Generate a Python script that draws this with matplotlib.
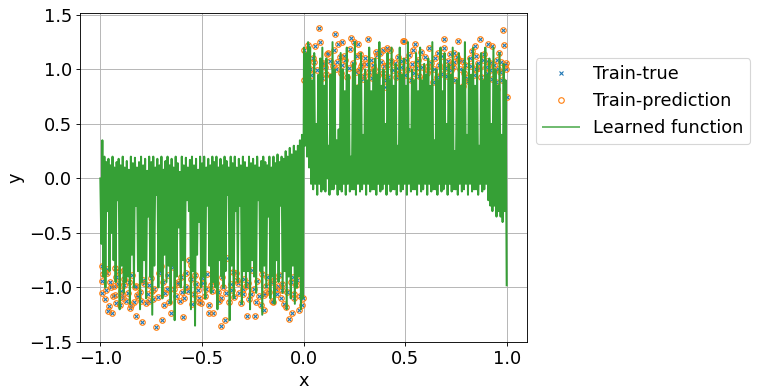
import numpy as np
import matplotlib
matplotlib.use("Agg")
import matplotlib.pyplot as plt

# ---- training data (left half, x < 0) ----
left_x = [
    -0.992, -0.992, -0.992, -0.985, -0.979, -0.979, -0.971, -0.965, -0.962, -0.959,
    -0.952, -0.943, -0.938, -0.933, -0.930, -0.930, -0.925, -0.922, -0.915, -0.905,
    -0.898, -0.889, -0.885, -0.881, -0.881, -0.872, -0.865, -0.856, -0.850, -0.843,
    -0.835, -0.830, -0.824, -0.824, -0.815, -0.807, -0.799, -0.796, -0.790, -0.783,
    -0.775, -0.766, -0.758, -0.750, -0.742, -0.735, -0.725, -0.717, -0.709, -0.701,
    -0.698, -0.688, -0.680, -0.668, -0.660, -0.652, -0.644, -0.636, -0.628, -0.616,
    -0.610, -0.603, -0.595, -0.587, -0.578, -0.570, -0.562, -0.554, -0.554, -0.549,
    -0.541, -0.534, -0.521, -0.513, -0.513, -0.505, -0.495, -0.485, -0.475, -0.464,
    -0.464, -0.456, -0.450, -0.445, -0.435, -0.423, -0.415, -0.407, -0.407, -0.399,
    -0.386, -0.375, -0.366, -0.358, -0.350, -0.340, -0.333, -0.325, -0.320, -0.310,
    -0.300, -0.292, -0.284, -0.276, -0.268, -0.260, -0.252, -0.245, -0.239, -0.228,
    -0.220, -0.211, -0.203, -0.195, -0.195, -0.186, -0.178, -0.168, -0.160, -0.154,
    -0.150, -0.137, -0.129, -0.120, -0.113, -0.104, -0.096, -0.088, -0.080, -0.075,
    -0.069, -0.062, -0.056, -0.050, -0.047, -0.045, -0.035, -0.023, -0.015, -0.006,
    -0.003, -0.968, -0.910, -0.860, -0.760, -0.690, -0.620, -0.580, -0.530, -0.480,
    -0.430, -0.380, -0.345, -0.315, -0.272, -0.233, -0.190, -0.143, -0.108, -0.030,
    -0.945, -0.895, -0.820, -0.745, -0.672, -0.600, -0.500, -0.395, -0.296, -0.125,
]
left_y = [
    -0.80, -0.94, -1.05, -0.88, -0.86, -1.11, -1.02, -0.83, -1.22, -1.17,
    -0.95, -1.23, -1.08, -0.99, -1.07, -0.82, -1.14, -0.90, -0.97, -1.16,
    -1.03, -1.10, -0.92, -0.98, -0.84, -1.12, -1.05, -1.19, -1.16, -0.89,
    -1.13, -1.00, -0.99, -1.26, -1.09, -1.04, -1.12, -1.32, -0.93, -0.96,
    -1.14, -1.06, -1.12, -0.91, -1.11, -1.01, -1.36, -1.09, -0.87, -0.80,
    -1.30, -1.16, -1.05, -0.89, -1.13, -1.23, -0.81, -1.01, -1.08, -0.95,
    -1.12, -0.90, -1.27, -1.10, -0.87, -1.03, -0.75, -0.79, -0.92, -1.15,
    -1.06, -0.89, -1.02, -1.13, -1.10, -1.14, -0.96, -1.08, -0.88, -1.16,
    -1.23, -0.98, -1.03, -1.23, -0.93, -1.04, -1.12, -1.35, -1.10, -0.90,
    -1.30, -0.73, -1.13, -0.97, -1.02, -1.09, -0.87, -0.93, -0.96, -1.14,
    -1.06, -0.92, -0.99, -1.26, -1.11, -1.06, -0.84, -1.01, -1.26, -0.94,
    -1.08, -1.16, -0.88, -1.21, -1.07, -0.99, -0.90, -1.04, -0.95, -1.12,
    -1.13, -1.01, -1.06, -0.89, -1.10, -0.97, -1.15, -1.18, -1.04, -0.84,
    -1.29, -0.95, -1.23, -0.90, -1.10, -1.06, -0.98, -1.21, -1.08, -1.16,
    -1.10, -0.87, -0.85, -0.95, -0.98, -0.95, -0.97, -1.00, -0.97, -1.01,
    -0.96, -1.05, -0.86, -1.05, -0.96, -1.13, -1.05, -0.93, -1.02, -0.93,
    -1.00, -1.07, -1.07, -1.03, -1.01, -1.04, -0.91, -1.00, -1.01, -0.99,
]

# ---- training data (right half, x > 0) ----
right_x = [
    0.001, 0.003, 0.010, 0.023, 0.030, 0.038, 0.045, 0.052, 0.059, 0.066,
    0.075, 0.083, 0.090, 0.097, 0.104, 0.110, 0.116, 0.120, 0.128, 0.135,
    0.143, 0.150, 0.153, 0.160, 0.170, 0.178, 0.183, 0.190, 0.190, 0.198,
    0.206, 0.213, 0.222, 0.230, 0.235, 0.242, 0.250, 0.258, 0.265, 0.270,
    0.270, 0.275, 0.280, 0.288, 0.295, 0.300, 0.305, 0.310, 0.317, 0.324,
    0.330, 0.335, 0.340, 0.348, 0.355, 0.360, 0.368, 0.377, 0.383, 0.390,
    0.390, 0.397, 0.400, 0.405, 0.410, 0.410, 0.418, 0.426, 0.432, 0.440,
    0.448, 0.453, 0.459, 0.465, 0.472, 0.480, 0.486, 0.490, 0.495, 0.500,
    0.505, 0.512, 0.520, 0.528, 0.535, 0.540, 0.546, 0.550, 0.557, 0.563,
    0.570, 0.578, 0.585, 0.592, 0.600, 0.606, 0.612, 0.620, 0.628, 0.635,
    0.640, 0.648, 0.655, 0.660, 0.668, 0.675, 0.683, 0.690, 0.690, 0.698,
    0.705, 0.712, 0.720, 0.728, 0.735, 0.740, 0.740, 0.748, 0.755, 0.760,
    0.765, 0.772, 0.780, 0.786, 0.790, 0.797, 0.805, 0.810, 0.818, 0.825,
    0.830, 0.838, 0.845, 0.850, 0.850, 0.858, 0.865, 0.870, 0.876, 0.883,
    0.890, 0.897, 0.905, 0.910, 0.918, 0.920, 0.928, 0.930, 0.937, 0.945,
    0.950, 0.950, 0.955, 0.960, 0.966, 0.972, 0.978, 0.980, 0.985, 0.990,
    0.995, 1.000, 0.997, 0.092, 0.165, 0.285, 0.555, 0.615, 0.725, 0.903,
]
right_y = [
    1.18, 0.90, 1.03, 1.22, 1.00, 0.95, 1.10, 1.07, 1.21, 0.99,
    1.38, 1.25, 0.92, 1.06, 1.02, 0.96, 1.14, 1.15, 1.08, 0.94,
    1.03, 1.18, 1.32, 1.00, 1.23, 1.11, 0.97, 1.25, 1.04, 1.12,
    1.09, 0.93, 1.01, 1.19, 1.29, 1.06, 1.25, 0.98, 1.12, 1.23,
    0.84, 0.99, 1.14, 1.05, 0.91, 0.94, 1.10, 1.05, 1.28, 0.98,
    1.09, 0.92, 1.04, 1.00, 1.16, 1.13, 0.95, 1.15, 1.07, 1.18,
    0.97, 1.03, 0.84, 0.90, 1.20, 1.04, 0.93, 1.18, 1.08, 0.99,
    1.06, 0.93, 1.01, 1.11, 0.96, 1.02, 1.08, 1.26, 1.26, 0.95,
    1.09, 1.00, 1.13, 0.90, 1.05, 1.18, 0.97, 1.23, 1.07, 1.09,
    0.94, 1.16, 1.02, 0.91, 1.11, 0.97, 1.03, 1.20, 1.06, 0.88,
    1.00, 1.10, 0.93, 1.15, 1.04, 0.96, 1.12, 1.28, 1.20, 1.01,
    0.94, 1.08, 1.14, 0.99, 1.02, 1.15, 1.07, 0.90, 1.11, 1.26,
    1.09, 1.00, 1.08, 0.85, 0.97, 1.04, 0.92, 0.89, 1.10, 1.03,
    1.17, 0.95, 1.21, 1.12, 1.00, 1.06, 1.01, 1.28, 0.93, 1.09,
    1.14, 1.02, 0.97, 1.23, 1.06, 0.99, 0.91, 1.21, 1.04, 0.88,
    1.09, 0.82, 1.00, 1.15, 0.98, 1.07, 0.90, 1.36, 1.22, 1.04,
    1.06, 0.75, 1.00, 1.05, 1.07, 1.03, 1.01, 0.99, 1.05, 1.08,
]

# ---- learned function values on an evenly spaced grid from -1 to 1 ----
learned_left = [
    0.0, -0.6, 0.35, -0.9, 0.2, -1.0, 0.15, -0.3, 0.18, -0.85,
    0.12, -0.5, 0.2, -0.75, 0.1, -0.95, 0.15, -0.2, 0.18, -1.2,
    0.12, -0.8, 0.2, -1.05, 0.1, -0.95, 0.16, -0.9, 0.08, -1.15,
    0.2, -0.7, 0.14, -1.0, 0.19, -0.25, 0.1, -0.85, 0.15, -1.2,
    0.2, -0.95, 0.12, -0.75, 0.18, -1.1, 0.07, -0.35, 0.2, -0.9,
    0.15, -1.25, 0.2, -0.8, 0.1, -0.15, 0.18, -1.0, 0.12, -0.85,
    0.2, -1.1, 0.08, -0.7, 0.16, -0.95, 0.2, -0.8, 0.12, -1.15,
    0.18, -0.8, 0.1, -1.3, 0.2, -0.9, 0.14, -0.45, 0.06, -1.0,
    0.2, -0.75, 0.12, -1.05, 0.19, -0.2, 0.1, -0.3, 0.17, -1.2,
    0.2, -0.85, 0.12, -1.35, 0.18, -0.7, 0.08, -0.4, 0.2, -1.0,
    0.14, -0.9, 0.2, -1.1, 0.1, -0.25, 0.18, -0.8, 0.12, -1.05,
    0.2, -0.95, 0.15, -1.0, 0.2, -1.2, 0.1, -0.75, 0.18, -0.9,
    0.12, -1.0, 0.2, -0.85, 0.16, -0.15, 0.1, -1.3, 0.2, -0.8,
    0.14, -1.1, 0.2, -0.3, 0.1, -0.95, 0.18, -0.25, 0.12, -1.15,
    0.2, -0.85, 0.15, -1.0, 0.1, -0.85, 0.2, -1.2, 0.14, -0.75,
    0.18, -0.9, 0.12, -1.05, 0.2, -0.2, 0.1, -0.85, 0.16, -1.25,
    0.2, -0.8, 0.15, -1.0, 0.12, -0.35, 0.2, -1.1, 0.1, -0.9,
    0.2, -1.15, 0.14, -0.75, 0.22, -0.95, 0.15, -0.25, 0.2, -1.05,
    0.18, -0.85, 0.25, -1.2, 0.2, -0.9, 0.28, -1.1, 0.22, -0.8,
    0.3, -1.15, 0.25, -1.0, 0.3, -0.9, 0.35, -1.2, 0.4, -1.1,
]
learned_right = [
    1.2, 0.3, 1.15, 0.2, 1.25, 0.1, 1.2, -0.05, 0.9, -0.1,
    1.15, -0.05, 0.5, -0.15, 0.95, -0.05, 1.1, -0.12, 1.2, -0.1,
    0.85, -0.12, 1.1, 0.0, 0.3, -0.15, 0.95, -0.1, 1.25, -0.1,
    1.0, -0.05, 0.35, -0.15, 0.45, -0.1, 1.15, -0.12, 1.0, -0.05,
    0.8, -0.15, 1.2, -0.05, 0.95, -0.12, 0.2, -0.1, 1.05, -0.1,
    1.25, -0.15, 0.85, -0.05, 0.95, -0.12, 1.15, -0.1, 0.4, -0.05,
    1.0, -0.15, 0.9, -0.05, 1.2, -0.12, 0.8, -0.1, 1.0, -0.1,
    1.1, -0.15, 0.95, -0.05, 1.25, -0.12, 0.85, -0.1, 1.0, -0.05,
    0.5, -0.15, 1.15, -0.05, 0.9, -0.12, 1.2, -0.1, 0.85, -0.1,
    1.05, -0.15, 0.3, -0.05, 1.2, -0.12, 0.95, -0.1, 1.1, -0.05,
    0.85, -0.15, 1.25, -0.05, 0.45, -0.12, 1.0, -0.1, 0.9, -0.1,
    1.15, -0.15, 0.8, -0.05, 1.2, -0.12, 0.9, -0.1, 1.05, -0.05,
    0.95, -0.15, 1.1, -0.05, 0.85, -0.12, 1.25, -0.1, 0.35, -0.1,
    1.0, -0.15, 0.9, -0.05, 1.2, -0.12, 0.8, -0.1, 1.15, -0.05,
    0.5, -0.15, 1.05, -0.05, 0.95, -0.12, 1.2, -0.1, 0.25, -0.1,
    0.9, -0.15, 1.15, -0.05, 0.85, -0.12, 1.0, -0.1, 1.25, -0.05,
    0.4, -0.15, 1.1, -0.05, 0.95, -0.12, 1.2, -0.1, 0.85, -0.1,
    1.05, -0.15, 0.3, -0.05, 1.15, -0.12, 0.9, -0.1, 1.2, -0.05,
    0.95, -0.2, 1.1, -0.25, 0.5, -0.3, 1.2, -0.25, 1.0, -0.35,
    0.85, -0.3, 1.15, -0.35, 0.4, -0.4, 1.05, -0.3, 0.9, -0.98,
]

legend_labels = ["Train-true", "Train-prediction", "Learned function"]

# ---- assemble ----
train_x = np.array(left_x + right_x)
train_y = np.array(left_y + right_y)
learned_y = np.array(learned_left + learned_right)
grid_x = np.linspace(-1.0, 1.0, len(learned_y))

DPI = 80
plt.rcParams["font.size"] = 16
fig = plt.figure(figsize=(761 / DPI, 392 / DPI), dpi=DPI)
ax = fig.add_axes([80 / 761, 50 / 392, 447 / 761, 329 / 392])

ax.plot(train_x, train_y, "x", color="C0", markersize=4, markeredgewidth=1.0,
        label=legend_labels[0])
ax.plot(train_x, train_y, "o", color="C1", markerfacecolor="none",
        markersize=5, markeredgewidth=1.0, label=legend_labels[1])
ax.plot(grid_x, learned_y, "-", color="#36a036", linewidth=1.8,
        label=legend_labels[2])

ax.set_xlabel("x")
ax.set_ylabel("y")
ax.set_xticks([-1.0, -0.5, 0.0, 0.5, 1.0])
ax.set_yticks([-1.5, -1.0, -0.5, 0.0, 0.5, 1.0, 1.5])
ax.grid(True)
leg = ax.legend(loc="upper left", bbox_to_anchor=(1.0, 0.89))
leg.legend_handles[2].set_alpha(0.7)

fig.savefig("out.png", dpi=DPI)
